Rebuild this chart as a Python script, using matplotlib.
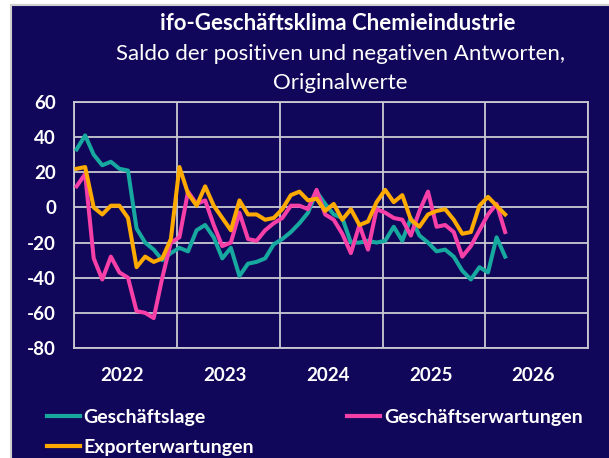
import matplotlib
matplotlib.use("Agg")
import matplotlib.pyplot as plt
from matplotlib.patches import Rectangle
import numpy as np

plt.rcParams['font.family'] = ['Lato', 'DejaVu Sans']

navy = '#11075A'
grid_col = '#c9c9d2'
teal = '#17A89F'
pink = '#F73FA8'
orange = '#FFAA00'

# monthly values, Jan 2022 .. Mar 2026
lage = [33, 41, 30, 24, 26, 22, 21, -12, -20, -24, -30, -26,
        -23, -25, -13, -10, -17, -29, -23, -39, -32, -31, -29, -21,
        -18, -14, -9, -3, 9, 2, -4, -6, -20, -20, -19, -20,
        -19, -11, -19, -6, -16, -20, -25, -24, -28, -36, -41, -34,
        -37, -17, -28]
erwartungen = [12, 19, -29, -41, -28, -37, -40, -59, -60, -63, -40, -20,
               -17, 9, 2, 4, -10, -22, -20, -3, -18, -19, -13, -9,
               -6, 1, 1, -1, 10, -4, -7, -15, -26, -10, -24, -1,
               -3, -6, -7, -16, -2, 9, -11, -10, -14, -28, -22, -13,
               -4, 2, -14]
export = [22, 23, 0, -4, 1, 1, -6, -34, -28, -31, -29, -18,
          23, 8, 1, 12, 1, -6, -13, 4, -4, -4, -7, -6,
          -1, 7, 9, 4, 5, -2, 2, -7, -1, -10, -8, 3,
          10, 3, 7, -7, -11, -4, -2, -1, -7, -15, -14, 1,
          6, 1, -4]
years = ['2022', '2023', '2024', '2025', '2026']
yticks = [-80, -60, -40, -20, 0, 20, 40, 60]

W, H = 609, 458
fig = plt.figure(figsize=(W / 100, H / 100), dpi=100, facecolor='white')
fig.patches.append(Rectangle((11 / W, -0.05), 1.1, 1 - 5 / H + 0.05,
                             transform=fig.transFigure, facecolor=navy,
                             edgecolor='#cfcfcf', lw=1.5, zorder=-5))

ax = fig.add_axes([74 / W, 1 - 348 / H, (588.3 - 74) / W, (348 - 102) / H])
ax.set_facecolor(navy)

x = np.arange(len(lage))
ax.plot(x, lage, color=teal, lw=2.9, label='Geschäftslage', zorder=3)
ax.plot(x, export, color=orange, lw=2.9, label='Exporterwartungen', zorder=5)
ax.plot(x, erwartungen, color=pink, lw=2.9, label='Geschäftserwartungen', zorder=4)

ax.set_xlim(-0.3, 59.7)
ax.set_ylim(-80, 60)
ax.set_yticks(yticks)
ax.set_yticklabels([str(v) for v in yticks])
ax.set_xticks([-0.3 + 12 * k for k in range(6)])
ax.set_xticklabels([])
ax.set_xticks([5.3 + 12 * k for k in range(len(years))], minor=True)
ax.set_xticklabels(years, minor=True)
ax.grid(True, color=grid_col, lw=1.3, zorder=1)
ax.set_axisbelow(True)
for s in ax.spines.values():
    s.set_color(grid_col)
    s.set_linewidth(1.3)
ax.tick_params(axis='y', length=0, pad=13, labelcolor='white', labelsize=13.5)
ax.tick_params(axis='x', which='both', length=0, pad=14, labelcolor='white', labelsize=13.5)
for lbl in ax.get_yticklabels() + ax.get_xticklabels(minor=True):
    lbl.set_fontweight('bold')

fig.text(338 / W, 1 - 23 / H, 'ifo-Geschäftsklima Chemieindustrie', color='white',
         fontsize=16, fontweight='bold', ha='center', va='center')
fig.text(340 / W, 1 - 54 / H, 'Saldo der positiven und negativen Antworten,', color='white',
         fontsize=16, ha='center', va='center')
fig.text(340 / W, 1 - 83 / H, 'Originalwerte', color='white',
         fontsize=16, ha='center', va='center')

leg = fig.legend(loc='upper left', bbox_to_anchor=(29 / W, 1 - 391 / H), ncol=2,
                 frameon=False, handlelength=1.7, handletextpad=0.2,
                 columnspacing=4.8, labelspacing=0.68,
                 prop={'weight': 'bold', 'size': 14})
for t in leg.get_texts():
    t.set_color('white')
for h in leg.get_lines():
    h.set_linewidth(3)

fig.savefig('out.png', dpi=100, facecolor=fig.get_facecolor())
